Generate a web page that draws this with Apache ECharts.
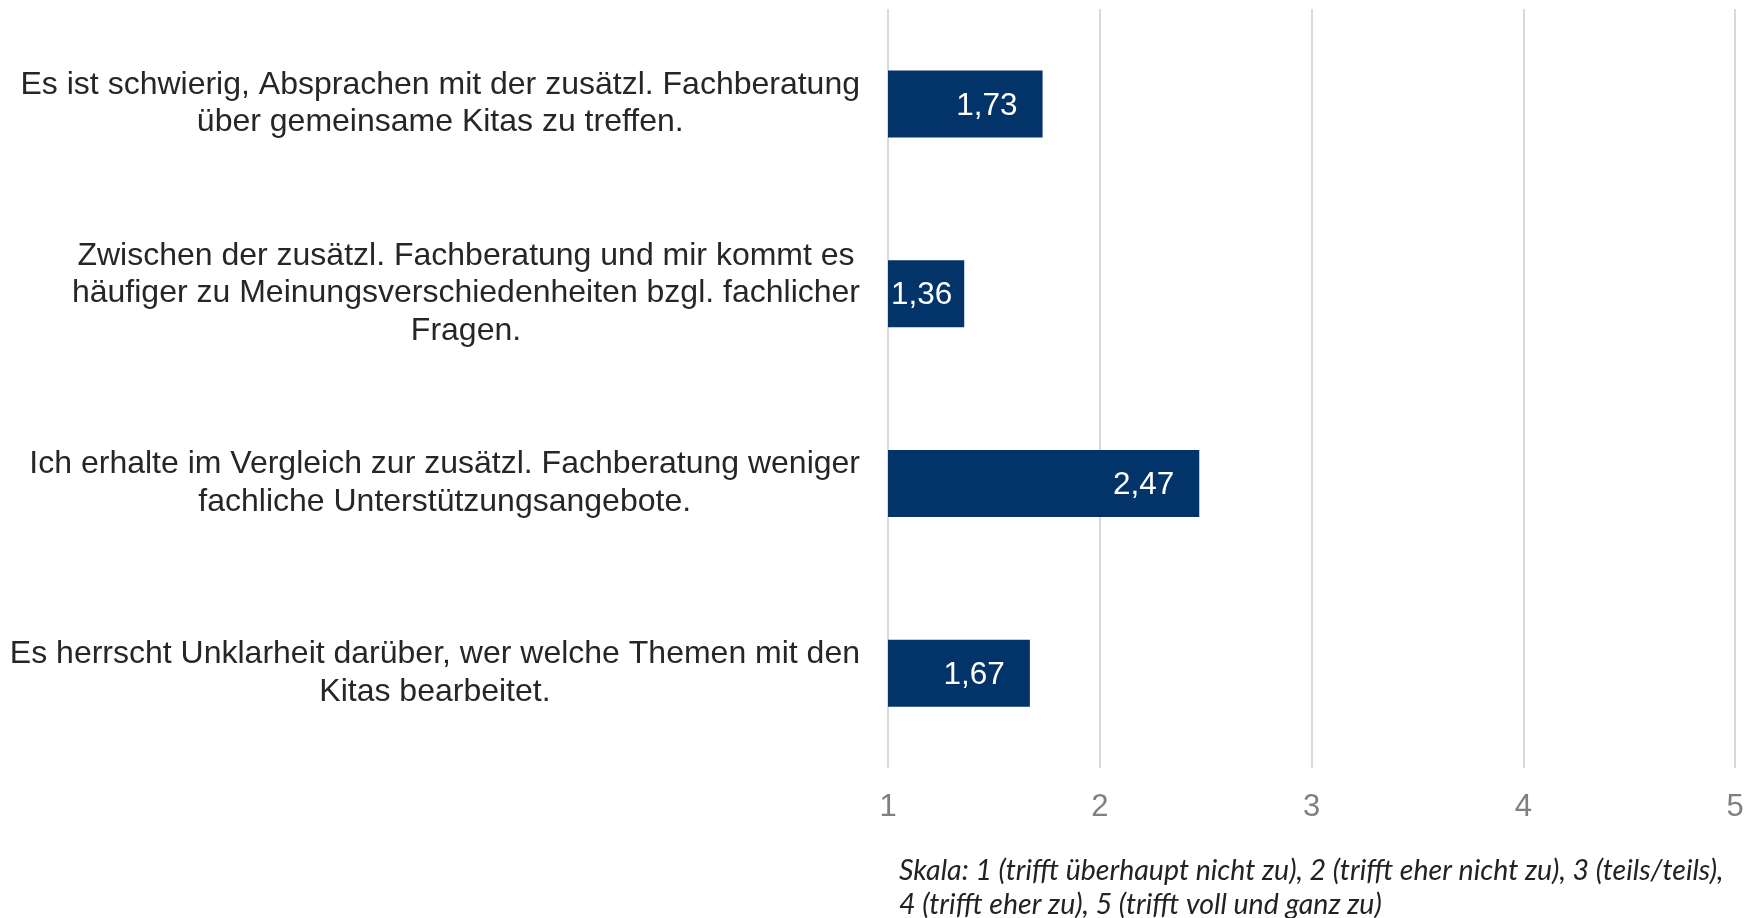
<!DOCTYPE html>
<html>
<head>
<meta charset="utf-8">
<script src="https://cdn.jsdelivr.net/npm/echarts@6/dist/echarts.min.js"></script>
<style>
  html, body { margin: 0; padding: 0; background: #fff; }
  #chart { width: 1757px; height: 918px; }
</style>
</head>
<body>
<div id="chart"></div>
<script>
const categories = [
  "Es ist schwierig, Absprachen mit der zusätzl. Fachberatung\nüber gemeinsame Kitas zu treffen.",
  "Zwischen der zusätzl. Fachberatung und mir kommt es\nhäufiger zu Meinungsverschiedenheiten bzgl. fachlicher\nFragen.",
  "Ich erhalte im Vergleich zur zusätzl. Fachberatung weniger\nfachliche Unterstützungsangebote.",
  "Es herrscht Unklarheit darüber, wer welche Themen mit den\nKitas bearbeitet."
];
const meanValues = [1.73, 1.36, 2.47, 1.67];
const scaleTicks = [1, 2, 3, 4, 5];
const footnote = "Skala: 1 (trifft überhaupt nicht zu), 2 (trifft eher nicht zu), 3 (teils/teils),\n4 (trifft eher zu), 5 (trifft voll und ganz zu)";

const chart = echarts.init(document.getElementById("chart"));

const option = {
  animation: false,
  title: {
    text: footnote,
    left: 894,
    top: 849,
    textStyle: {
      fontFamily: "Lato",
      fontStyle: "italic",
      fontWeight: "normal",
      fontSize: 28.5,
      lineHeight: 34,
      color: "#222"
    }
  },
  grid: { left: 888, right: 22, top: 9, bottom: 150 },
  xAxis: {
    type: "value",
    min: scaleTicks[0],
    max: scaleTicks[scaleTicks.length - 1],
    interval: 1,
    axisLine: { show: false },
    axisTick: { show: false },
    splitLine: { show: true, lineStyle: { color: "#d9d9d9", width: 2 } },
    axisLabel: {
      margin: 24,
      fontFamily: "Liberation Sans",
      fontSize: 31,
      color: "#7f7f7f"
    }
  },
  yAxis: {
    type: "category",
    inverse: true,
    data: categories,
    axisLine: { show: false },
    axisTick: { show: false },
    axisLabel: {
      margin: 28,
      align: "right",
      formatter: (v) => v.split("\n").map((l) => "{c|" + l + "}").join("\n"),
      rich: {
        c: {
          align: "center",
          fontFamily: "Liberation Sans",
          fontSize: 32,
          lineHeight: 37.5,
          color: "#262626"
        }
      }
    }
  },
  series: [
    {
      type: "bar",
      barWidth: 67,
      data: meanValues.map((v) => ({
        value: v,
        label: v < 1.5 ? { position: "insideLeft", distance: 3 } : {}
      })),
      itemStyle: { color: "#02346a" },
      label: {
        show: true,
        position: "insideRight",
        distance: 25,
        offset: [0, 2],
        fontFamily: "Liberation Sans",
        fontSize: 31.5,
        color: "#fff",
        formatter: (p) => p.value.toFixed(2).replace(".", ",")
      }
    }
  ]
};

chart.setOption(option);
window.addEventListener("resize", () => chart.resize());
</script>
</body>
</html>
